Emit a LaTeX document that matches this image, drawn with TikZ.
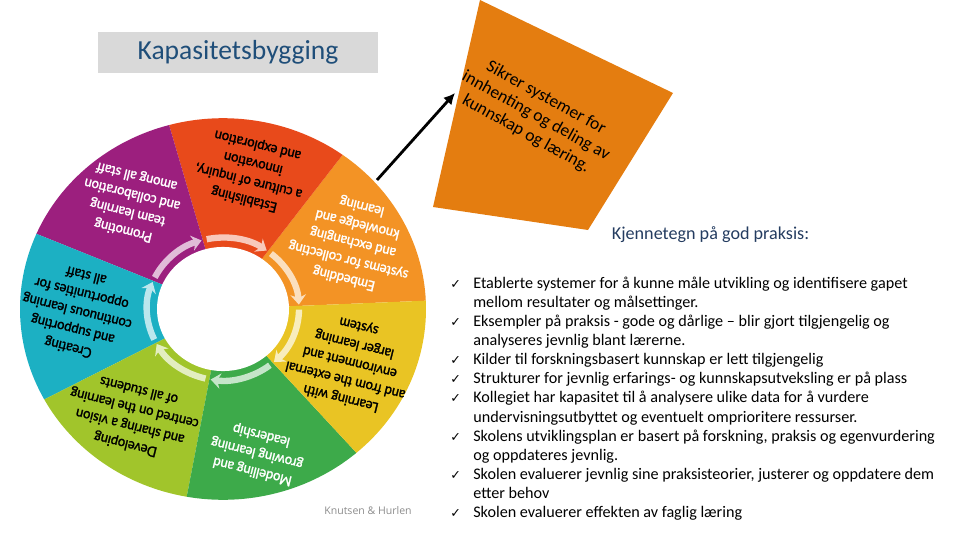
\documentclass[tikz,border=0pt]{standalone}
\usepackage{fontspec}
\setmainfont{Carlito}
\newfontfamily\wheelfont[FakeStretch=0.92, FakeBold=1.6]{Lato}
\newfontfamily\checkfont{DejaVu Sans}
\newfontfamily\creditfont{Open Sans}
\usetikzlibrary{arrows.meta}

\definecolor{segred}{RGB}{232,74,27}
\definecolor{segorange}{RGB}{243,147,37}
\definecolor{segyellow}{RGB}{233,196,36}
\definecolor{seggreen}{RGB}{61,170,74}
\definecolor{seglime}{RGB}{161,197,43}
\definecolor{segteal}{RGB}{28,176,195}
\definecolor{segpurple}{RGB}{156,31,126}
\definecolor{trapfill}{RGB}{228,125,16}
\definecolor{titlegray}{RGB}{217,217,217}
\definecolor{titleblue}{RGB}{31,78,121}
\definecolor{headblue}{RGB}{36,60,96}
\definecolor{creditgray}{RGB}{140,140,140}

\tikzset{
  wheeltext/.style={font=\wheelfont\fontsize{10}{13.2}\selectfont, align=center, rotate=166, inner sep=0pt},
  ringarrow/.style={line width=4.5pt, -{Stealth[length=7pt, width=11pt]}},
}

\begin{document}
\begin{tikzpicture}
\useasboundingbox (0,0) rectangle (24,13.5);

% title
\node[fill=titlegray, minimum width=7cm, minimum height=1.025cm, text=titleblue, font=\fontsize{19.6}{23}\selectfont] (title) at (5.95,12.1875) {Kapasitetsbygging};

% the wheel
\begin{scope}[shift={(5.575,5.775)}, yscale=0.94]
  \fill[segorange] (0,0) -- (2.5:5.075) arc[start angle=2.5, end angle=53.9, radius=5.075] -- cycle;
  \fill[segred] (0,0) -- (53.9:5.075) arc[start angle=53.9, end angle=105.4, radius=5.075] -- cycle;
  \fill[segpurple] (0,0) -- (105.4:5.075) arc[start angle=105.4, end angle=156.8, radius=5.075] -- cycle;
  \fill[segteal] (0,0) -- (156.8:5.075) arc[start angle=156.8, end angle=208.3, radius=5.075] -- cycle;
  \fill[seglime] (0,0) -- (208.3:5.075) arc[start angle=208.3, end angle=259.7, radius=5.075] -- cycle;
  \fill[seggreen] (0,0) -- (259.7:5.075) arc[start angle=259.7, end angle=311.1, radius=5.075] -- cycle;
  \fill[segyellow] (0,0) -- (311.1:5.075) arc[start angle=311.1, end angle=362.5, radius=5.075] -- cycle;
  \fill[white] (0,0) circle (1.65);
  % arrows round the hole
  \draw[ringarrow, segorange!30!white] (50.9:1.9) arc[start angle=50.9, end angle=3.5, radius=1.9];
  \draw[ringarrow, segred!30!white] (102.4:1.9) arc[start angle=102.4, end angle=54.9, radius=1.9];
  \draw[ringarrow, segpurple!30!white] (153.8:1.9) arc[start angle=153.8, end angle=106.4, radius=1.9];
  \draw[ringarrow, segteal!30!white] (205.3:1.9) arc[start angle=205.3, end angle=157.8, radius=1.9];
  \draw[ringarrow, seglime!30!white] (256.7:1.9) arc[start angle=256.7, end angle=209.3, radius=1.9];
  \draw[ringarrow, seggreen!30!white] (308.1:1.9) arc[start angle=308.1, end angle=260.7, radius=1.9];
  \draw[ringarrow, segyellow!30!white] (359.5:1.9) arc[start angle=359.5, end angle=312.1, radius=1.9];
\end{scope}

% texts on the wheel
\node[wheeltext] (inquiry) at (6.275,9.2) {Establishing\\a culture of inquiry,\\innovation\\and exploration};
\node[wheeltext, text=white] (knowledge) at (8.825,7.45) {Embedding\\systems for collecting\\and exchanging\\knowledge and\\learning};
\node[wheeltext] (external) at (8.75,4.45) {Learning with\\and from the external\\environment and\\larger learning\\system};
\node[wheeltext, text=white] (leadership) at (6.425,2.175) {Modelling and\\growing learning\\leadership};
\node[wheeltext] (vision) at (3.3,3.05) {Developing\\and sharing a vision\\centred on the learning\\of all students};
\node[wheeltext] (continuous) at (1.925,5.7) {Creating\\and supporting\\continuous learning\\opportunities for\\all staff};
\node[wheeltext, text=white] (teamwork) at (3.25,8.425) {Promoting\\team learning\\and collaboration\\among all staff};

\node[text=creditgray, font=\creditfont\fontsize{7.5}{9}\selectfont] (credit) at (9.2,0.7375) {Knutsen \& Hurlen};

% orange box with arrow
\fill[trapfill] (12.0,13.5) -- (16.825,11.175) -- (14.7,7.75) -- (10.825,8.325) -- cycle;
\node[rotate=-29, align=center, font=\fontsize{12.5}{14.6}\selectfont] (trapnote) at (13.4,10.6) {Sikrer systemer for\\innhenting og deling av\\kunnskap og læring.};
\coordinate (wheeledge) at (9.425,9.0);
\coordinate (trapedge) at (11.375,11.175);
\draw[line width=2pt, -{Latex[length=8pt, width=8pt]}] (wheeledge) -- (trapedge);

% list
\node[text=headblue, font=\fontsize{12.9}{15}\selectfont] (kjennetegn) at (17.7625,7.625) {Kjennetegn på god praksis:};
\node[anchor=base west, inner sep=0pt, font=\fontsize{11.5}{13.63}\selectfont] (checklist) at (11.25,6.3) {%
\begin{tabular}[t]{@{}p{0.575cm}@{}l@{}}
{\checkfont\small ✓} & Etablerte systemer for å kunne måle utvikling og identifisere gapet\\
 & mellom resultater og målsettinger.\\
{\checkfont\small ✓} & Eksempler på praksis - gode og dårlige – blir gjort tilgjengelig og\\
 & analyseres jevnlig blant lærerne.\\
{\checkfont\small ✓} & Kilder til forskningsbasert kunnskap er lett tilgjengelig\\
{\checkfont\small ✓} & Strukturer for jevnlig erfarings- og kunnskapsutveksling er på plass\\
{\checkfont\small ✓} & Kollegiet har kapasitet til å analysere ulike data for å vurdere\\
 & undervisningsutbyttet og eventuelt omprioritere ressurser.\\
{\checkfont\small ✓} & Skolens utviklingsplan er basert på forskning, praksis og egenvurdering\\
 & og oppdateres jevnlig.\\
{\checkfont\small ✓} & Skolen evaluerer jevnlig sine praksisteorier, justerer og oppdatere dem\\
 & etter behov\\
{\checkfont\small ✓} & Skolen evaluerer effekten av faglig læring
\end{tabular}};
\end{tikzpicture}
\end{document}
